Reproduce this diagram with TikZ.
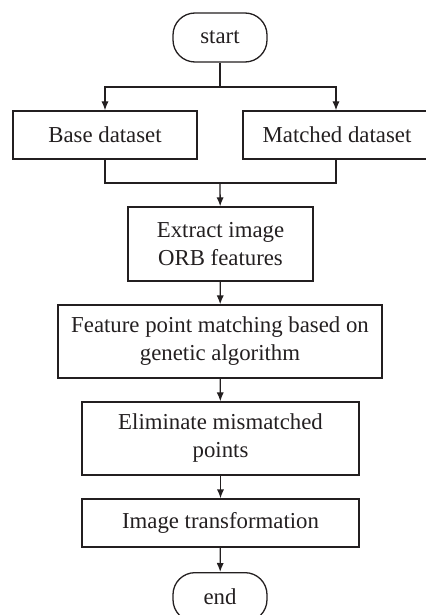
\documentclass[tikz,border=0pt]{standalone}
\usepackage{fontspec}
\setmainfont{Liberation Serif}
\usetikzlibrary{arrows.meta, positioning, calc}
\definecolor{inkdark}{HTML}{231F20}

\tikzset{
  stepbox/.style={draw=inkdark, line width=0.65pt, align=center, inner sep=2pt,
    text=inkdark},
  termbox/.style={stepbox, rounded corners=11pt, minimum width=47pt, minimum height=24.5pt},
  flow/.style={draw=inkdark, line width=0.65pt, -{Latex[length=4.5pt,width=3.6pt]}},
  link/.style={draw=inkdark, line width=0.65pt}
}

\begin{document}
\begin{tikzpicture}[x=0.5pt, y=-0.5pt, font=\fontsize{11.4}{14}\selectfont]
  \useasboundingbox (0,0) rectangle (425,615);
  \node[termbox] (start) at (220,37.5) {start};
  \node[stepbox, minimum width=92pt, minimum height=24pt] (base) at (105,135) {Base dataset};
  \node[stepbox, minimum width=94pt, minimum height=24pt] (matched) at (337,135) {Matched dataset};
  \node[stepbox, minimum width=92.5pt, minimum height=37pt] (orb) at (220.5,244) {Extract image\\ORB features};
  \node[stepbox, minimum width=162pt, minimum height=36.5pt] (match) at (220,341.5) {Feature point matching based on\\genetic algorithm};
  \node[stepbox, minimum width=138.5pt, minimum height=36.5pt] (elim) at (220.5,438.5) {Eliminate mismatched\\points};
  \node[stepbox, minimum width=138.5pt, minimum height=24pt] (trans) at (220.5,523) {Image transformation};
  \node[termbox, anchor=north] (end) at (220,572) {end};
  \coordinate (split) at (220,87);
  \coordinate (merge) at (220,183);
  % branches and joins
  \draw[link] (start) -- (split);
  \draw[flow] (split) -| (base);
  \draw[flow] (split) -| ($(matched.north)+(-1,0)$);
  \draw[link] (base) |- (merge);
  \draw[link] ($(matched.south)+(-1,0)$) |- (merge);
  \draw[flow] (merge) -- (orb);
  \draw[flow] (orb) -- (match);
  \draw[flow] (match) -- (elim);
  \draw[flow] (elim) -- (trans);
  \draw[flow] (trans) -- (end);
\end{tikzpicture}
\end{document}
